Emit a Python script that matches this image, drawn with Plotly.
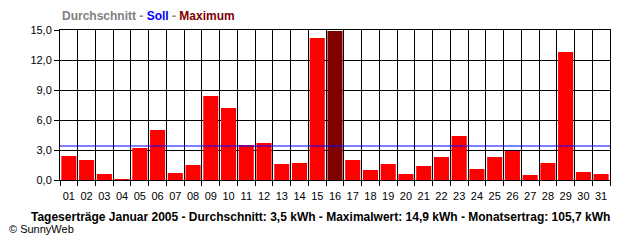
import plotly.graph_objects as go

days = [f"{d:02d}" for d in range(1, 32)]
values = [2.4, 2.0, 0.6, 0.1, 3.2, 5.0, 0.7, 1.5, 8.4, 7.2,
          3.5, 3.7, 1.6, 1.7, 14.2, 14.9, 2.0, 1.0, 1.6, 0.6,
          1.4, 2.3, 4.4, 1.1, 2.3, 2.9, 0.5, 1.7, 12.8, 0.8, 0.6]
soll = 3.4
y_ticks = [0, 3, 6, 9, 12, 15]

max_v = max(values)
colors = ["#800000" if v == max_v else "#FF0000" for v in values]

fig = go.Figure()
fig.add_trace(go.Bar(x=days, y=values, marker=dict(color=colors, line=dict(width=0)),
                     hoverinfo="x+y"))
fig.add_hline(y=soll, line=dict(color="#0000FF", width=1))

fig.update_layout(
    width=640, height=240,
    margin=dict(l=60, r=30, t=30, b=60),
    paper_bgcolor="white", plot_bgcolor="white",
    separators=",.",
    showlegend=False,
    bargap=0.15,
    font=dict(family="Liberation Sans, Arial, sans-serif", size=11, color="black"),
)
fig.update_xaxes(type="category", tickson="boundaries", ticks="outside", ticklen=5,
                 tickcolor="black", showgrid=True, gridcolor="black", gridwidth=1,
                 showline=True, linecolor="black", linewidth=1, mirror=True,
                 tickangle=0, ticklabelstandoff=6, tickfont=dict(size=11),
                 fixedrange=True)
fig.update_yaxes(range=[0, 15], tickvals=y_ticks, tickformat=".1f", ticks="outside",
                 ticklen=5, tickcolor="black", showgrid=True, gridcolor="black",
                 gridwidth=1, zeroline=False, showline=True, linecolor="black",
                 linewidth=1, mirror=True, tickfont=dict(size=11), fixedrange=True)

fig.add_annotation(
    xref="paper", yref="paper", x=0, y=1, xanchor="left", yanchor="middle",
    yshift=14, showarrow=False,
    text="<b><span style='color:#808080'>Durchschnitt - </span>"
         "<span style='color:#0000FF'>Soll</span>"
         "<span style='color:#808080'> - </span>"
         "<span style='color:#800000'>Maximum</span></b>",
    font=dict(size=12),
)
fig.add_annotation(
    xref="paper", yref="paper", x=(320 - 60) / 550, y=0, xanchor="center",
    yanchor="middle", yshift=-37, showarrow=False,
    text="<b>Tageserträge Januar 2005 - Durchschnitt: 3,5 kWh - Maximalwert: 14,9 kWh - Monatsertrag: 105,7 kWh</b>",
    font=dict(size=12, color="black"),
)
fig.add_annotation(
    xref="paper", yref="paper", x=-53 / 550, y=0, xanchor="left",
    yanchor="middle", yshift=-49, showarrow=False,
    text="© SunnyWeb", font=dict(size=11, color="black"),
)

fig.write_html("out.html", config={"displayModeBar": False})
